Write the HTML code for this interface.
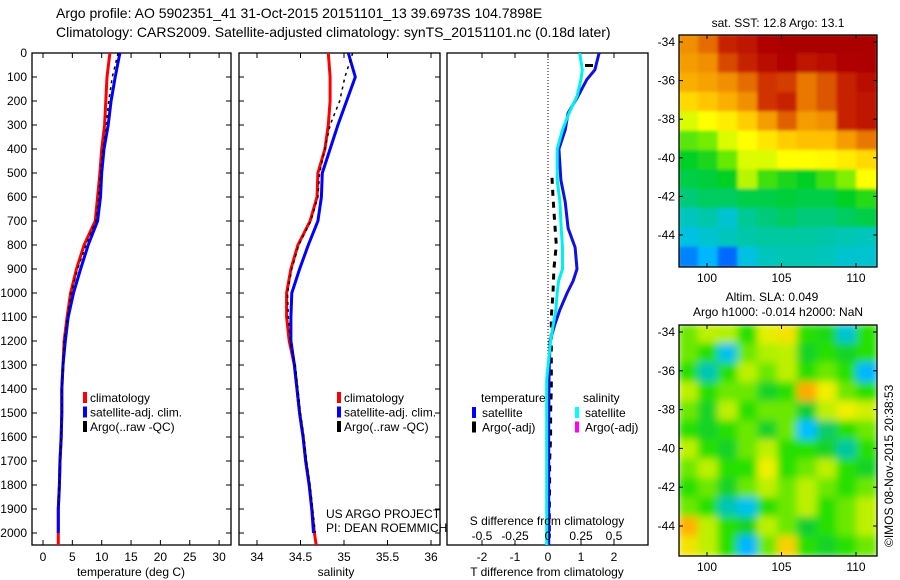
<!DOCTYPE html>
<html><head><meta charset="utf-8"><style>
html,body{margin:0;padding:0;background:#fff;}
svg{display:block;font-family:"Liberation Sans",sans-serif;}
text{fill:#000;}
</style></head><body>
<svg id="fig" width="900" height="580" viewBox="0 0 900 580" xmlns="http://www.w3.org/2000/svg">
<defs>
<clipPath id="c1"><rect x="32" y="53" width="199" height="492"/></clipPath>
<clipPath id="c2"><rect x="239" y="53" width="201" height="492"/></clipPath>
<clipPath id="c3"><rect x="447" y="53" width="201" height="492"/></clipPath>
<clipPath id="cm1"><rect x="679" y="35" width="198" height="232"/></clipPath>
<clipPath id="cm2"><rect x="679" y="325" width="198" height="231"/></clipPath>
<filter id="blur2" x="0" y="0" width="100%" height="100%"><feGaussianBlur stdDeviation="4"/></filter>
<filter id="blur1" x="0" y="0" width="100%" height="100%"><feGaussianBlur stdDeviation="1.5"/></filter>
</defs>
<text x="56" y="18" font-size="14">Argo profile: AO 5902351_41 31-Oct-2015 20151101_13 39.6973S 104.7898E</text>
<text x="56" y="37" font-size="14">Climatology: CARS2009. Satellite-adjusted climatology: synTS_20151101.nc (0.18d later)</text>
<g id="g1"></g>
<g id="g2"></g>
<g id="g3"></g>
<g id="gm1"></g>
<g id="gm2"></g>
<text x="778" y="27" font-size="12" text-anchor="middle">sat. SST: 12.8 Argo: 13.1</text>
<text x="772" y="301" font-size="12" text-anchor="middle">Altim. SLA: 0.049</text>
<text x="778" y="316" font-size="12" text-anchor="middle">Argo h1000: -0.014 h2000: NaN</text>
<text transform="translate(893,547) rotate(-90)" font-size="12">©IMOS 08-Nov-2015 20:38:53</text>
<text x="326" y="518" font-size="12">US ARGO PROJECT</text>
<text x="326" y="532" font-size="12">PI: DEAN ROEMMICH</text>
</svg>
<script>
// ---- data ----
const depthTicks=[0,100,200,300,400,500,600,700,800,900,1000,1100,1200,1300,1400,1500,1600,1700,1800,1900,2000];
const tempTicks=[0,5,10,15,20,25,30];
const salTicks=[34,34.5,35,35.5,36];
const dTTicks=[-2,-1,0,1,2];
const dSTicks=[-0.5,-0.25,0,0.25,0.5];
const depths=[0,100,200,300,400,500,600,700,800,900,1000,1100,1200,1300,1400,1500,1600,1700,1800,1900,2000,2050];
const tempClim=[11.4,10.9,10.7,10.5,10.0,9.7,9.3,8.9,7.0,5.7,4.7,4.1,3.6,3.4,3.2,3.2,3.1,2.9,2.8,2.6,2.6,2.6];
const tempSat=[13.1,12.3,11.6,11.1,10.4,10.0,9.8,9.3,7.7,6.4,5.2,4.3,3.8,3.4,3.2,3.2,3.1,2.9,2.8,2.6,2.6];
const tempArgo=[12.8,11.8,11.2,10.8,10.2,9.8,9.5,9.0,7.3,5.9,4.8,4.2,3.6,3.4,3.2,3.2,3.1,2.9,2.8,2.6];
const salClim=[34.82,34.84,34.84,34.82,34.78,34.70,34.69,34.61,34.47,34.39,34.34,34.34,34.37,34.43,34.46,34.49,34.53,34.56,34.60,34.63,34.66,34.68];
const salSat=[35.05,35.13,35.03,34.93,34.84,34.75,34.74,34.70,34.59,34.49,34.40,34.39,34.39,34.43,34.46,34.49,34.53,34.56,34.60,34.63,34.65];
const salArgo=[35.1,35.01,34.95,34.84,34.78,34.72,34.70,34.62,34.48,34.40,34.35,34.36,34.38,34.44,34.47,34.50,34.54,34.57,34.61,34.64,34.67];
const diffDepths=[0,70,110,180,250,320,400,530,620,730,810,900,950,1000,1070,1130,1200,1360,1600,1800,2050];
const dTSat=[1.55,1.42,1.18,0.91,0.61,0.52,0.33,0.39,0.52,0.61,0.82,0.88,0.76,0.58,0.36,0.21,0.06,0.03,0.02,0.02,0.02];
const dSSat=[0.24,0.26,0.25,0.22,0.16,0.11,0.07,0.07,0.09,0.10,0.11,0.11,0.08,0.07,0.06,0.04,0.02,-0.01,-0.01,-0.01,-0.01];
const argoDDepths=[520,600,700,800,900,1000,1100,1200,1300,1400,1500,1600,1700,1800,1900,2000];
const dTArgo=[0.12,0.15,0.2,0.25,0.18,0.15,0.1,0.1,0.1,0.1,0.08,0.08,0.05,0.05,0.04,0.04];
const latTicks=[-34,-36,-38,-40,-42,-44];
const lonTicks=[100,105,110];
const sstGrid=[
[0.8,0.83,0.9,0.92,0.95,0.97,0.97,0.97,0.97,0.97],
[0.78,0.8,0.86,0.9,0.93,0.95,0.92,0.93,0.95,0.96],
[0.75,0.77,0.8,0.83,0.88,0.87,0.82,0.85,0.9,0.93],
[0.68,0.71,0.75,0.8,0.88,0.9,0.82,0.85,0.9,0.92],
[0.6,0.62,0.65,0.7,0.78,0.84,0.78,0.8,0.9,0.92],
[0.52,0.54,0.6,0.62,0.66,0.7,0.72,0.72,0.78,0.82],
[0.45,0.47,0.53,0.6,0.6,0.62,0.62,0.63,0.65,0.68],
[0.42,0.43,0.45,0.58,0.5,0.47,0.45,0.5,0.55,0.62],
[0.38,0.4,0.4,0.42,0.42,0.43,0.42,0.42,0.45,0.48],
[0.32,0.34,0.3,0.36,0.38,0.4,0.38,0.38,0.4,0.42],
[0.28,0.3,0.32,0.34,0.35,0.35,0.35,0.34,0.33,0.32],
[0.18,0.24,0.15,0.28,0.32,0.33,0.33,0.32,0.3,0.3]];
const slaGrid=[
[.55,.62,.6,.5,.68,.72,.5,.45,.25,.5],
[.55,.5,.22,.55,.6,.62,.42,.5,.42,.5],
[.5,.28,.5,.62,.55,.62,.5,.55,.5,.15],
[.62,.5,.55,.55,.42,.5,.82,.7,.55,.5],
[.55,.42,.62,.5,.55,.55,.4,.62,.7,.65],
[.5,.42,.5,.55,.42,.55,.2,.35,.5,.55],
[.62,.5,.42,.55,.62,.5,.5,.42,.3,.5],
[.55,.62,.5,.5,.7,.5,.55,.62,.5,.42],
[.5,.55,.42,.55,.62,.55,.62,.55,.5,.55],
[.55,.5,.28,.22,.5,.55,.62,.5,.55,.62],
[.8,.62,.5,.42,.62,.55,.4,.5,.55,.62],
[.72,.62,.5,.15,.55,.75,.5,.42,.5,.55]];

// ---- helpers ----
const NS='http://www.w3.org/2000/svg';
function mk(parent,tag,attrs,txt){const e=document.createElementNS(NS,tag);for(const k in attrs)e.setAttribute(k,attrs[k]);if(txt!==undefined)e.textContent=txt;parent.appendChild(e);return e;}
const yD=d=>53+0.24*d;
const xT=t=>43+5.87*t;
const xS=s=>257+87*(s-34);
const xDT=v=>548+33*v;
const xDS=v=>548+132*v;
function frame(g,x0,x1){
  const r=mk(g,'rect',{x:x0,y:53,width:x1-x0,height:492,fill:'none',stroke:'#000','stroke-width':1.3});
  
  
  depthTicks.forEach(d=>{
    mk(g,'line',{x1:x0,x2:x0+5,y1:yD(d),y2:yD(d),stroke:'#000'});
    mk(g,'line',{x1:x1-5,x2:x1,y1:yD(d),y2:yD(d),stroke:'#000'});
  });
}
function path(g,xs,ds,fx,color,w,name,dash){
  let s='';xs.forEach((v,i)=>{s+=(i?'L':'M')+fx(v).toFixed(1)+','+yD(ds[i]).toFixed(1);});
  const p=mk(g,'path',{d:s,fill:'none',stroke:color,'stroke-width':w,'stroke-linejoin':'round'});
  if(dash)p.setAttribute('stroke-dasharray',dash);
  
  
  return p;
}
function xticks(g,ticks,fx,labels,y){
  ticks.forEach((t,i)=>{
    const x=fx(t);
    mk(g,'line',{x1:x,x2:x,y1:545,y2:540,stroke:'#000'});
    mk(g,'line',{x1:x,x2:x,y1:53,y2:58,stroke:'#000'});
    const tl=mk(g,'text',{x:x,y:y,'font-size':12,'text-anchor':'middle'},labels[i]);
    
    
  });
}
function legend(g,x,items){
  items.forEach((it,i)=>{
    const y=398+i*14.5;
    mk(g,'rect',{x:x,y:y-6,width:4,height:11,fill:it[0]});
    const t=mk(g,'text',{x:x+7,y:y+4,'font-size':12},it[1]);
    
    
  });
}
// ---- panel 1 ----
const g1=document.getElementById('g1');
depthTicks.forEach(d=>{const t=mk(g1,'text',{x:27,y:yD(d)+4,'font-size':12,'text-anchor':'end'},String(d));
  
  });
frame(g1,32,231);
xticks(g1,tempTicks,xT,tempTicks.map(String),561);
const gc1=mk(g1,'g',{'clip-path':'url(#c1)'});
path(gc1,tempClim,depths,xT,'#f00',3,'temp-climatology-line');
path(gc1,tempSat,depths,xT,'#00f',3,'temp-satellite-line');
path(gc1,tempArgo,depths.slice(0,tempArgo.length),xT,'#000',1.5,'temp-argo-line','3,4');
legend(g1,83,[['#f00','climatology'],['#00f','satellite-adj. clim.'],['#000','Argo(..raw -QC)']]);
let at=mk(g1,'text',{x:131,y:576,'font-size':12,'text-anchor':'middle'},'temperature (deg C)');

// ---- panel 2 ----
const g2=document.getElementById('g2');
frame(g2,239,440);
xticks(g2,salTicks,xS,salTicks.map(String),561);
const gc2=mk(g2,'g',{'clip-path':'url(#c2)'});
path(gc2,salClim,depths,xS,'#f00',3,'sal-climatology-line');
path(gc2,salSat,depths.slice(0,salSat.length),xS,'#00f',3,'sal-satellite-line');
path(gc2,salArgo,depths.slice(0,salArgo.length),xS,'#000',1.5,'sal-argo-line','3,4');
legend(g2,337,[['#f00','climatology'],['#00f','satellite-adj. clim.'],['#000','Argo(..raw -QC)']]);
at=mk(g2,'text',{x:336,y:576,'font-size':12,'text-anchor':'middle'},'salinity');

// ---- panel 3 ----
const g3=document.getElementById('g3');
mk(g3,'rect',{x:447,y:53,width:201,height:492,fill:'none',stroke:'#000','stroke-width':1.3});
xticks(g3,dTTicks,xDT,dTTicks.map(String),561);
mk(g3,'line',{x1:548,x2:548,y1:53,y2:545,stroke:'#000','stroke-dasharray':'1,2'});
const gc3=mk(g3,'g',{'clip-path':'url(#c3)'});
path(gc3,dTArgo,argoDDepths,xDT,'#000',3,'temp-diff-argo-line','6,6');
path(gc3,dTSat,diffDepths,xDT,'#1010e0',3,'temp-diff-satellite-line');
path(gc3,dSSat,diffDepths,xDS,'#00f0f0',3,'sal-diff-satellite-line');
mk(gc3,'rect',{x:585,y:64,width:8,height:3,fill:'#000'});
const tl=mk(g3,'text',{x:481,y:402,'font-size':12},'temperature');
const sl=mk(g3,'text',{x:583,y:402,'font-size':12},'salinity');
[['#00f','satellite',472],['#000','Argo(-adj)',472],['#0ff','satellite',575],['#f0f','Argo(-adj)',575]].forEach((it,i)=>{
  const y=413+(i%2)*14.5;
  mk(g3,'rect',{x:it[2],y:y-6,width:4,height:11,fill:it[0]});
  const t=mk(g3,'text',{x:it[2]+10,y:y+4,'font-size':12},it[1]);
  
  
});
const sdt=mk(g3,'text',{x:547,y:525,'font-size':12,'text-anchor':'middle'},'S difference from climatology');

dSTicks.forEach(v=>{const t=mk(g3,'text',{x:xDS(v),y:540,'font-size':12,'text-anchor':'middle'},String(v));
  
  });
at=mk(g3,'text',{x:547,y:576,'font-size':12,'text-anchor':'middle'},'T difference from climatology');

// ---- maps ----
function palette(stops,v){
  for(let i=1;i<stops.length;i++){if(v<=stops[i][0]){const a=stops[i-1],b=stops[i],f=(v-a[0])/(b[0]-a[0]);
    return 'rgb('+[0,1,2].map(k=>Math.round(a[1][k]+f*(b[1][k]-a[1][k]))).join(',')+')';}}
  return 'rgb('+stops[stops.length-1][1].join(',')+')';
}
const sstStops=[[0,[0,0,160]],[0.12,[0,80,255]],[0.25,[0,190,255]],[0.35,[0,200,160]],[0.45,[0,208,32]],[0.55,[128,240,0]],[0.62,[255,255,0]],[0.72,[255,192,0]],[0.8,[240,144,0]],[0.88,[208,48,0]],[0.95,[176,0,0]],[1,[160,0,0]]];
const slaStops=[[0,[0,150,255]],[0.2,[0,192,255]],[0.3,[0,200,160]],[0.4,[16,208,48]],[0.5,[40,224,0]],[0.6,[176,240,0]],[0.7,[240,240,0]],[0.8,[255,176,0]],[1,[255,120,0]]];
function map(g,x0,y0,w,h,grid,stops,clip,filt,latY0,latY1,name){
  const rows=grid.length,cols=grid[0].length,cw=w/cols,ch=h/rows;
  const cg=mk(g,'g',{'clip-path':'url(#'+clip+')'});
  const ig=mk(cg,'g',{filter:'url(#'+filt+')'});
  grid.forEach((row,r)=>row.forEach((v,c)=>{
    const cell=mk(ig,'rect',{x:x0+c*cw-1,y:y0+r*ch-1,width:cw+2,height:ch+2,fill:palette(stops,v)});
    
    
  }));
  mk(g,'rect',{x:x0,y:y0,width:w,height:h,fill:'none',stroke:'#000','stroke-width':1.3});
  const yl=lat=>latY0+(latY1-latY0)*(lat+34)/(-10);
  latTicks.forEach(l=>{const y=yl(l);
    mk(g,'line',{x1:x0,x2:x0+4,y1:y,y2:y,stroke:'#000'});
    mk(g,'line',{x1:x0+w-4,x2:x0+w,y1:y,y2:y,stroke:'#000'});
    const t=mk(g,'text',{x:x0-4,y:y+4,'font-size':12,'text-anchor':'end'},String(l));
    
    });
  const xl=lon=>707+14.9*(lon-100);
  lonTicks.forEach(l=>{const x=xl(l);
    mk(g,'line',{x1:x,x2:x,y1:y0,y2:y0+4,stroke:'#000'});
    mk(g,'line',{x1:x,x2:x,y1:y0+h-4,y2:y0+h,stroke:'#000'});
    const t=mk(g,'text',{x:x,y:y0+h+15,'font-size':12,'text-anchor':'middle'},String(l));
    
    });
}
map(document.getElementById('gm1'),679,35,198,232,sstGrid,sstStops,'cm1','blur1',42,235,'sst');
map(document.getElementById('gm2'),679,325,198,231,slaGrid,slaStops,'cm2','blur2',332,526,'sla');
</script>
</body></html>
